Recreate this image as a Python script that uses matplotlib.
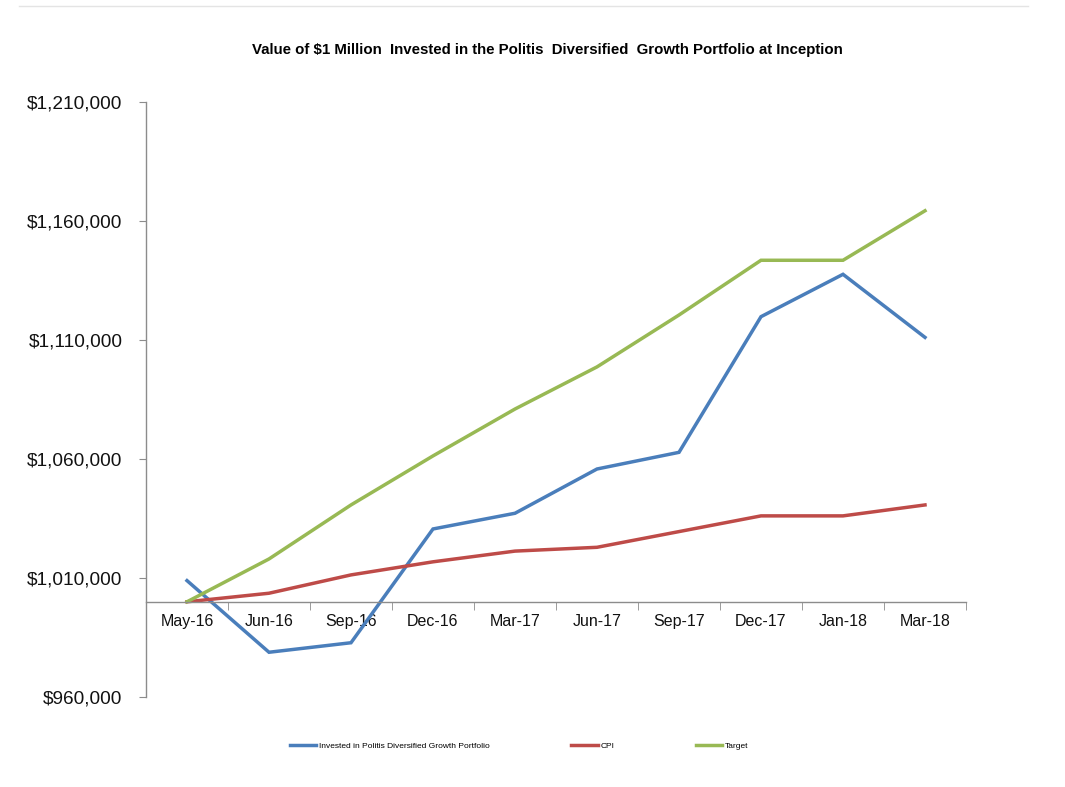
import matplotlib.pyplot as plt
from matplotlib.lines import Line2D
from matplotlib.ticker import FuncFormatter, FixedLocator

plt.rcParams['font.family'] = ['Liberation Sans', 'DejaVu Sans']

# data
months = ["May-16", "Jun-16", "Sep-16", "Dec-16", "Mar-17",
          "Jun-17", "Sep-17", "Dec-17", "Jan-18", "Mar-18"]
portfolio = [1008900, 978800, 982800, 1030600, 1037200,
             1055800, 1062800, 1119800, 1137600, 1111100]
cpi = [1000000, 1003600, 1011300, 1016800, 1021300,
       1022900, 1029500, 1036100, 1036100, 1040700]
target = [1000000, 1018000, 1040700, 1061300, 1081000,
          1098700, 1120500, 1143500, 1143500, 1164300]
series_names = ["Invested in Politis Diversified Growth Portfolio", "CPI", "Target"]
colors = ["#4A7EBB", "#BE4B48", "#98B954"]

fig = plt.figure(figsize=(10.65, 7.87), dpi=100)
ax = fig.add_axes([146 / 1065, 1 - 697 / 787, 820 / 1065, 595 / 787])

x = list(range(len(months)))
for vals, name, c in zip([portfolio, cpi, target], series_names, colors):
    ax.plot(x, vals, color=c, linewidth=2.5, label=name, solid_joinstyle='miter')

ax.set_xlim(-0.5, len(months) - 0.5)
ax.set_ylim(960000, 1210000)
ax.set_yticks(range(960000, 1210001, 50000))
ax.yaxis.set_major_formatter(FuncFormatter(lambda v, p: f"${v:,.0f}"))

# category axis crosses at $1,000,000
ax.spines['bottom'].set_position(('data', 1000000))
ax.spines['top'].set_visible(False)
ax.spines['right'].set_visible(False)
for s in ['left', 'bottom']:
    ax.spines[s].set_color('#8c8c8c')
    ax.spines[s].set_linewidth(1.0)

ax.set_xticks(x)
ax.set_xticklabels(months)
ax.xaxis.set_minor_locator(FixedLocator([i - 0.5 for i in range(len(months) + 1)]))
ax.tick_params(axis='x', which='major', length=0, pad=9, labelsize=11.5, colors='black')
ax.tick_params(axis='x', which='minor', length=6, direction='out', color='#8c8c8c')
ax.tick_params(axis='y', length=5, direction='out', color='#8c8c8c', labelsize=13.7, pad=12)
for lbl in ax.get_xticklabels() + ax.get_yticklabels():
    lbl.set_color('#111111')

fig.text(547 / 1065, 1 - 50 / 787,
         "Value of $1 Million  Invested in the Politis  Diversified  Growth Portfolio at Inception",
         ha='center', va='center', fontsize=10.8, fontweight='bold')

handles = [Line2D([0], [0], color=c, linewidth=2.5) for c in colors]
fig.legend(handles, series_names, loc='center', bbox_to_anchor=(519 / 1065, 1 - 746 / 787),
           ncol=3, frameon=False, fontsize=6, handlelength=3.2, handletextpad=0.3,
           columnspacing=9.8)

# thin separator line at the top of the page
fig.add_artist(Line2D([19 / 1065, 1028 / 1065], [1 - 6 / 787, 1 - 6 / 787],
                      color='#e4e4e4', linewidth=1.0))

fig.savefig("out.png", dpi=100)
